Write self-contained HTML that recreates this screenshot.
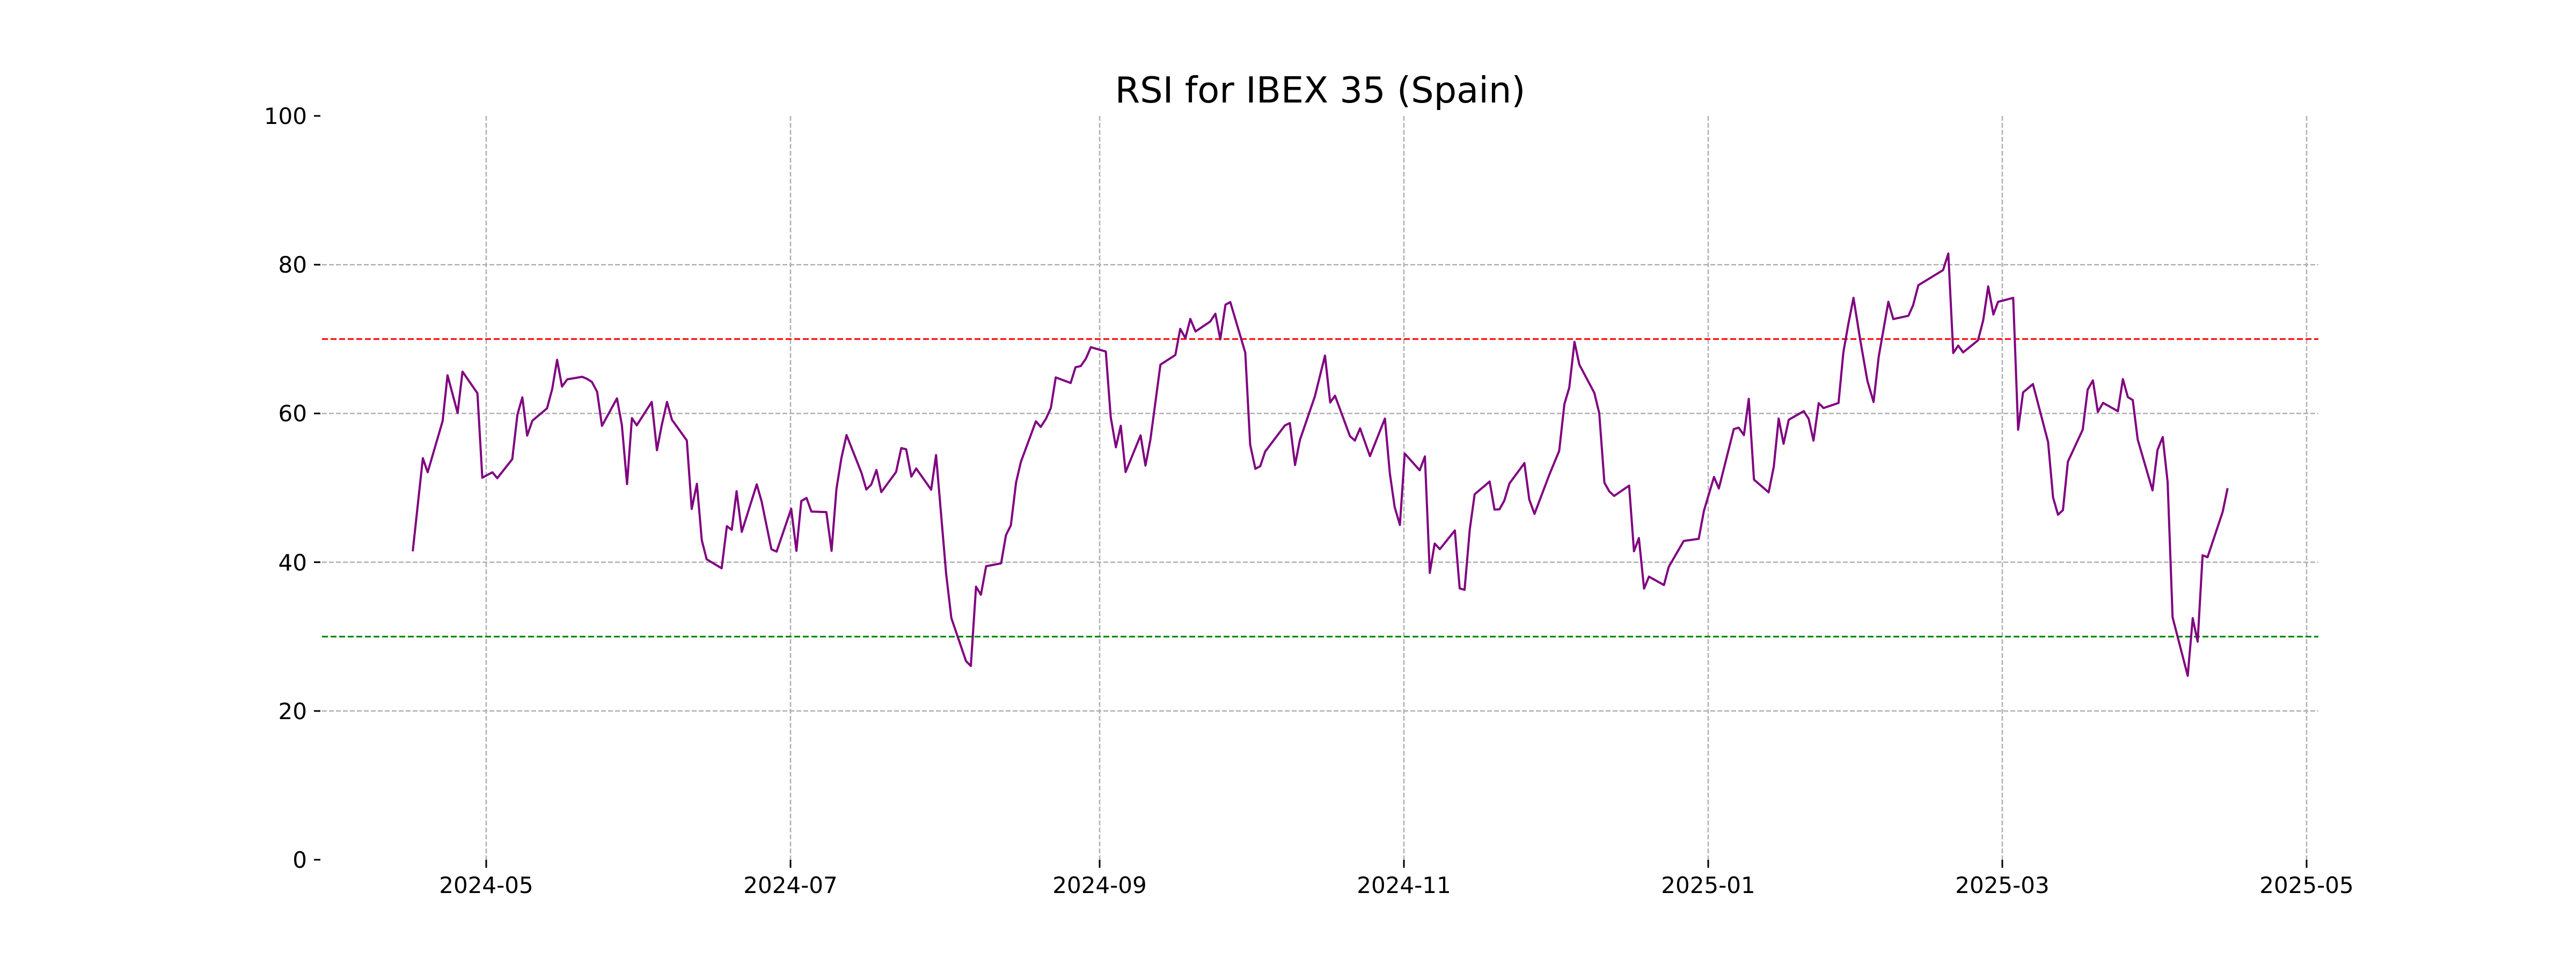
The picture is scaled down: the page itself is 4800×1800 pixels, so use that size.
<!DOCTYPE html>
<html><head><meta charset="utf-8"><style>
html,body{margin:0;padding:0;background:#fff;}
svg{display:block;}
text{font-family:"DejaVu Sans","Liberation Sans",sans-serif;fill:#000;}
</style></head><body>
<svg width="4800" height="1800" viewBox="0 0 4800 1800" xmlns="http://www.w3.org/2000/svg">
<rect width="4800" height="1800" fill="#fff"/>
<g stroke="#b0b0b0" stroke-width="2.5" stroke-dasharray="9,4" fill="none">
<line x1="600" x2="4320" y1="493.2" y2="493.2"/>
<line x1="600" x2="4320" y1="770.4" y2="770.4"/>
<line x1="600" x2="4320" y1="1047.6" y2="1047.6"/>
<line x1="600" x2="4320" y1="1324.8" y2="1324.8"/>
<line x1="906" x2="906" y1="216" y2="1602"/>
<line x1="1473" x2="1473" y1="216" y2="1602"/>
<line x1="2049" x2="2049" y1="216" y2="1602"/>
<line x1="2616" x2="2616" y1="216" y2="1602"/>
<line x1="3183" x2="3183" y1="216" y2="1602"/>
<line x1="3731" x2="3731" y1="216" y2="1602"/>
<line x1="4298" x2="4298" y1="216" y2="1602"/>
</g>
<line x1="600" x2="4320" y1="631.8" y2="631.8" stroke="#ff0000" stroke-width="3" stroke-dasharray="11,5"/>
<line x1="600" x2="4320" y1="1186.2" y2="1186.2" stroke="#008000" stroke-width="3" stroke-dasharray="11,5"/>
<polyline fill="none" stroke="#800080" stroke-width="4" stroke-linejoin="round" points="
769.1,1027.3 787.9,853.7 796.9,880.0 824.8,784.4 833.9,699.2 852.7,769.5 861.8,692.5 889.6,732.7 898.7,890.1 917.5,880.0 926.6,891.0 954.5,855.6 964.2,772.4 973.3,740.4 982.3,811.6 992.0,783.9 1019.3,760.9 1029.0,724.6 1038.1,670.5 1047.2,720.3 1056.9,706.9 1084.7,702.1 1093.8,705.9 1102.9,711.7 1112.6,729.8 1121.7,793.5 1149.6,742.3 1158.7,791.5 1168.4,902.0 1177.5,779.1 1186.5,792.5 1214.4,749.0 1224.1,838.9 1233.2,791.5 1242.9,749.0 1252.0,782.0 1279.8,820.7 1288.9,948.4 1298.6,901.5 1307.7,1006.8 1316.8,1042.2 1344.7,1058.9 1354.4,980.5 1363.5,987.2 1372.5,915.4 1382.2,991.0 1410.1,902.5 1419.2,934.6 1437.4,1023.5 1447.1,1027.8 1474.3,948.0 1484.0,1026.4 1493.1,933.6 1502.8,927.9 1511.9,953.2 1539.8,954.2 1549.5,1026.4 1558.6,911.1 1567.7,854.2 1577.4,810.7 1605.2,881.0 1614.3,912.1 1623.4,903.0 1633.1,875.7 1642.2,916.9
1669.7,879.5 1679.4,835.0 1688.5,837.2 1698.2,888.1 1707.2,873.0 1735.1,912.5 1744.2,848.0 1763.0,1069.2 1772.7,1151.6 1800.0,1231.8 1809.0,1241.0 1818.7,1093.1 1827.8,1108.2 1837.5,1055.1 1865.4,1049.7 1874.5,997.1 1883.6,978.7 1893.3,899.0 1902.3,860.5 1930.2,785.1 1939.3,795.4 1949.0,780.3 1958.1,760.2 1967.2,703.3 1995.0,713.6 2004.1,684.3 2013.8,682.1 2023.5,668.1 2032.6,646.9 2060.5,655.0 2069.6,776.5 2079.3,833.4 2088.4,793.3 2097.4,879.5 2125.3,811.2 2134.4,867.5 2143.5,819.8 2162.3,679.4 2190.1,661.5 2199.2,612.8 2208.9,630.1 2218.0,594.3 2227.7,617.6 2255.0,599.2 2264.7,584.6 2273.8,632.3 2283.5,567.8 2292.5,562.9 2320.4,657.2 2329.5,828.5 2339.2,873.5 2348.3,868.6 2357.4,841.5 2394.3,792.7 2403.4,788.4 2413.1,866.5 2422.2,819.8 2450.1,738.5 2468.9,662.6 2478.6,749.9 2487.6,737.4 2515.5,812.8 2524.6,820.9 2534.3,798.2
2552.7,850.0 2580.6,779.9 2589.7,881.7 2598.8,945.1 2608.5,978.1 2617.5,845.1 2645.4,876.3 2655.1,850.4 2664.2,1067.4 2673.3,1012.9 2683.0,1023.2 2710.9,988.4 2719.9,1096.4 2729.0,1099.1 2738.7,986.6 2747.8,921.0 2775.7,897.3 2784.8,949.5 2793.9,949.1 2803.0,933.0 2812.6,900.9 2840.5,862.9 2849.6,930.8 2859.3,957.6 2887.2,883.9 2905.3,840.2 2915.0,753.1 2924.1,722.3 2933.8,637.0 2942.9,679.5 2970.8,732.1 2979.9,769.6 2989.6,899.5 2998.7,915.6 3007.7,924.1 3035.6,904.9 3044.7,1027.2 3053.8,1002.6 3063.5,1096.8 3072.6,1074.5 3100.5,1090.1 3109.5,1056.2 3137.4,1008.0 3165.3,1004.0 3175.0,951.8 3193.8,888.8 3202.8,910.2 3230.7,799.5 3239.8,796.9 3249.5,810.7 3258.6,743.3 3268.3,893.7 3295.6,917.4 3305.2,869.6 3314.3,779.9 3323.4,826.8 3333.1,782.1 3361.0,766.1 3370.1,780.3 3379.2,821.0 3388.9,751.3 3397.9,760.3 3425.8,750.9 3434.9,656.2
3443.9,604.9 3453.7,555.0 3466.1,632.5 3479.7,710.0 3491.1,749.0 3500.8,664.0 3518.7,562.4 3527.9,594.6 3556.1,588.3 3564.8,568.8 3574.6,531.4 3620.6,503.3 3630.4,472.3 3639.6,657.7 3648.8,644.0 3658.0,656.6 3685.7,634.2 3695.4,596.9 3704.7,533.7 3714.4,586.0 3723.1,562.4 3751.3,555.0 3760.5,800.7 3769.7,731.2 3788.1,715.7 3816.3,823.6 3825.6,926.9 3834.8,959.1 3844.0,950.5 3853.2,860.3 3880.8,800.7 3890.1,726.0 3899.8,708.8 3909.0,767.4 3918.8,750.7 3946.4,766.2 3955.7,706.5 3964.9,739.8 3974.1,745.5 3983.3,819.0 4010.9,913.7 4020.2,838.5 4029.9,814.4 4039.1,898.8 4048.3,1150.2 4076.5,1259.3 4085.8,1151.9 4095.0,1195.6 4104.2,1034.8 4113.4,1038.3 4141.6,953.9 4150.8,909.7"/>
<g stroke="#000" stroke-width="3">
<line x1="585" x2="597" y1="216" y2="216"/>
<line x1="585" x2="597" y1="493.2" y2="493.2"/>
<line x1="585" x2="597" y1="770.4" y2="770.4"/>
<line x1="585" x2="597" y1="1047.6" y2="1047.6"/>
<line x1="585" x2="597" y1="1324.8" y2="1324.8"/>
<line x1="585" x2="597" y1="1602" y2="1602"/>
<line x1="906" x2="906" y1="1602" y2="1617"/>
<line x1="1473" x2="1473" y1="1602" y2="1617"/>
<line x1="2049" x2="2049" y1="1602" y2="1617"/>
<line x1="2616" x2="2616" y1="1602" y2="1617"/>
<line x1="3183" x2="3183" y1="1602" y2="1617"/>
<line x1="3731" x2="3731" y1="1602" y2="1617"/>
<line x1="4298" x2="4298" y1="1602" y2="1617"/>
</g>
<g font-size="42" text-anchor="end">
<text x="572" y="231">100</text>
<text x="572" y="508">80</text>
<text x="572" y="785">60</text>
<text x="572" y="1063">40</text>
<text x="572" y="1340">20</text>
<text x="572" y="1617">0</text>
</g>
<g font-size="42" text-anchor="middle">
<text x="906" y="1664">2024-05</text>
<text x="1473" y="1664">2024-07</text>
<text x="2049" y="1664">2024-09</text>
<text x="2616" y="1664">2024-11</text>
<text x="3183" y="1664">2025-01</text>
<text x="3731" y="1664">2025-03</text>
<text x="4298" y="1664">2025-05</text>
</g>
<text x="2460" y="191" font-size="67" text-anchor="middle">RSI for IBEX 35 (Spain)</text>
</svg>
</body></html>
